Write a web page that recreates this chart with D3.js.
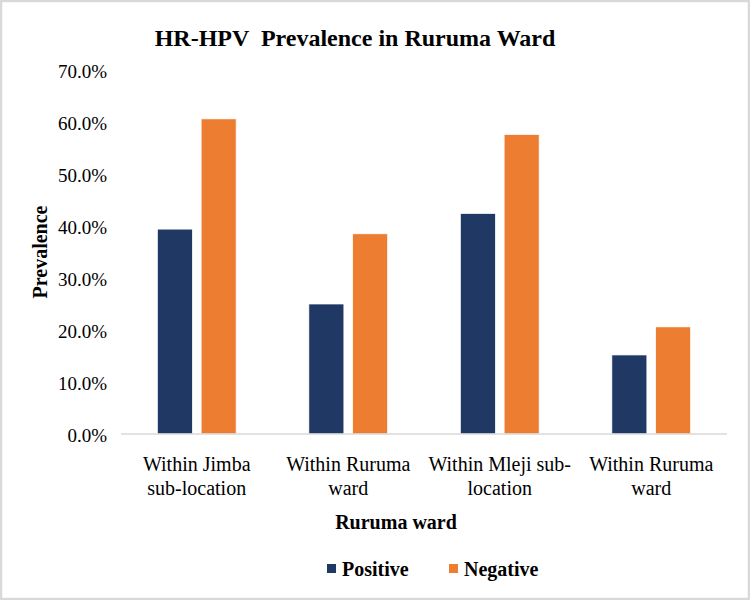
<!DOCTYPE html>
<html>
<head>
<meta charset="utf-8">
<script src="https://cdn.jsdelivr.net/npm/d3@7/dist/d3.min.js"></script>
<style>
  html, body { margin: 0; padding: 0; background: #fff; }
  svg { display: block; }
  text { font-family: "Liberation Serif", "Times New Roman", serif; fill: #000; }
</style>
</head>
<body>
<script>
// ---- data ----
const categories = [
  ["Within Jimba", "sub-location"],
  ["Within Ruruma", "ward"],
  ["Within Mleji sub-", "location"],
  ["Within Ruruma ", "ward"]
];
const categoryKeys = ["c1", "c2", "c3", "c4"];
const seriesNames = ["Positive", "Negative"];
const positiveValues = [0.394, 0.250, 0.424, 0.152];
const negativeValues = [0.606, 0.385, 0.576, 0.206];
const yTicks = [0, 0.1, 0.2, 0.3, 0.4, 0.5, 0.6, 0.7];
const colors = ["#203864", "#ED7D31"];

const W = 750, H = 600;
const svg = d3.select("body").append("svg").attr("width", W).attr("height", H);

// frame
svg.append("rect").attr("x", 1).attr("y", 1).attr("width", W - 2).attr("height", H - 2)
  .attr("fill", "#fff").attr("stroke", "#d9d9d9").attr("stroke-width", 2.5);

const x0 = d3.scaleBand().domain(categoryKeys).range([121, 727]).paddingInner(0.48).paddingOuter(0.24);
const x1 = d3.scaleBand().domain(seriesNames).range([0, x0.bandwidth()]).paddingInner(0.2);
const y = d3.scaleLinear().domain([0, 0.7]).range([434, 70]);

// title
svg.append("text").attr("x", 355).attr("y", 46).attr("text-anchor", "middle")
  .style("white-space", "pre")
  .attr("font-size", 24).attr("font-weight", "bold").text("HR-HPV  Prevalence in Ruruma Ward");

// y axis
const yAxis = d3.axisLeft(y).tickValues(yTicks).tickFormat(d3.format(".1%")).tickSize(0).tickPadding(0);
const yg = svg.append("g").attr("transform", "translate(107,0)").call(yAxis);
yg.select(".domain").remove();
yg.selectAll("text").attr("font-size", 19).attr("font-family", "Liberation Serif").attr("fill", "#000").attr("dy", "0.4em");

// bars
const data = categoryKeys.map((k, i) => ({ key: k, vals: [positiveValues[i], negativeValues[i]] }));
const g = svg.append("g");
g.selectAll("g.cat").data(data).join("g").attr("class", "cat")
  .attr("transform", d => `translate(${x0(d.key)},0)`)
  .selectAll("rect").data(d => d.vals.map((v, j) => ({ s: seriesNames[j], v, j })))
  .join("rect")
  .attr("x", d => x1(d.s)).attr("width", x1.bandwidth())
  .attr("y", d => y(d.v)).attr("height", d => y(0) - y(d.v))
  .attr("fill", d => colors[d.j]).attr("stroke", "#fff").attr("stroke-width", 0.7);

// x axis baseline
const xAxis = d3.axisBottom(x0).tickSize(0).tickFormat(() => "");
const xg = svg.append("g").attr("transform", `translate(0,${y(0)})`).call(xAxis);
xg.select(".domain").attr("stroke", "#d9d9d9").attr("stroke-width", 1.5).attr("d", "M121,0H727");

// category labels
categoryKeys.forEach((k, i) => {
  const cx = x0(k) + x0.bandwidth() / 2;
  const t = svg.append("text").attr("text-anchor", "middle").attr("font-size", 20);
  categories[i].forEach((line, li) => {
    t.append("tspan").attr("x", cx).attr("y", 471 + li * 24).text(line.trim());
  });
});

// axis titles
svg.append("text").attr("x", 396).attr("y", 529).attr("text-anchor", "middle")
  .attr("font-size", 20).attr("font-weight", "bold").text("Ruruma ward");
svg.append("text").attr("transform", "translate(47,252) rotate(-90)").attr("text-anchor", "middle")
  .attr("font-size", 20).attr("font-weight", "bold").text("Prevalence");

// legend
const legendX = [327, 449];
seriesNames.forEach((s, i) => {
  svg.append("rect").attr("x", legendX[i]).attr("y", 564).attr("width", 9).attr("height", 9).attr("fill", colors[i]);
  svg.append("text").attr("x", legendX[i] + 15).attr("y", 576).attr("font-size", 20).attr("font-weight", "bold").text(s);
});
</script>
</body>
</html>
